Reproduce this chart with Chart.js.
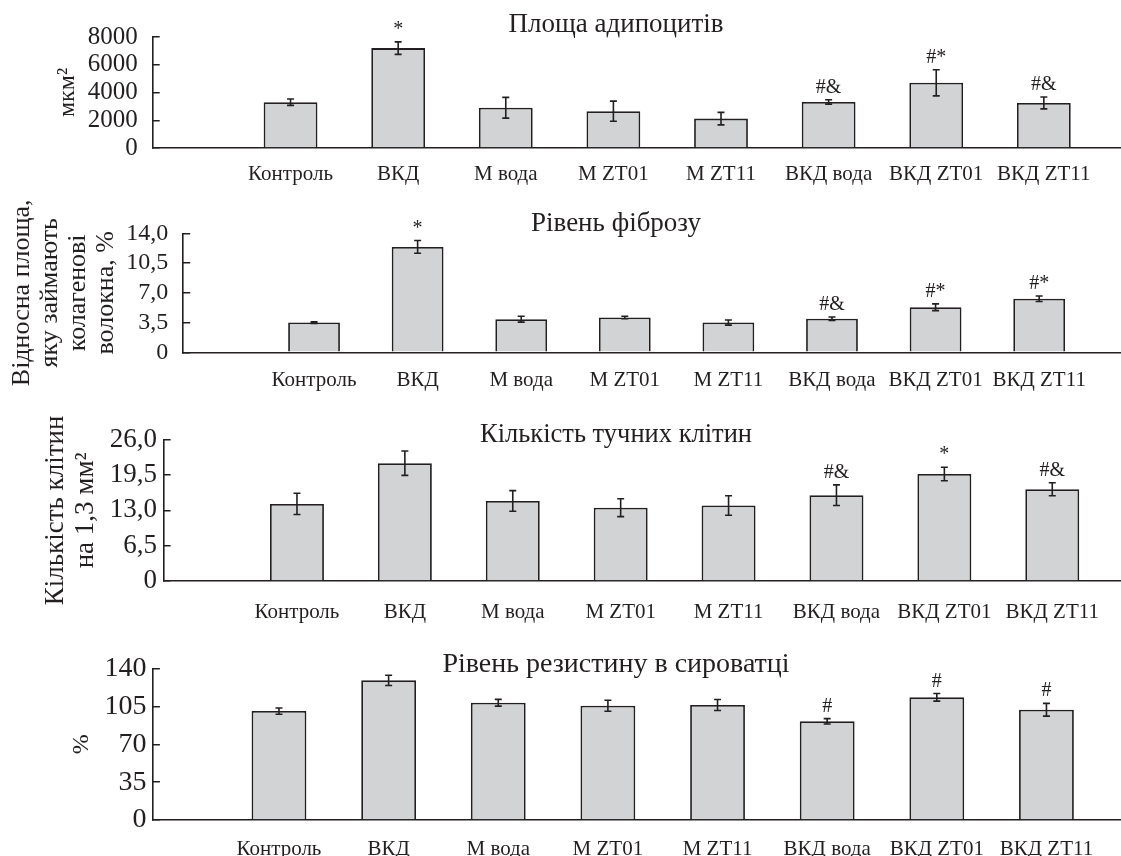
<!DOCTYPE html>
<html>
<head>
<meta charset="utf-8">
<script src="https://cdn.jsdelivr.net/npm/chart.js@4.4.0/dist/chart.umd.min.js"></script>
<style>
  html, body { margin: 0; padding: 0; background: #fff; }
  #wrap { position: relative; width: 1121px; height: 856px; overflow: hidden; }
  canvas { position: absolute; left: 0; }
</style>
</head>
<body>
<div id="wrap">
  <canvas id="chart-1" width="1121" height="195" style="top:0px"></canvas>
  <canvas id="chart-2" width="1121" height="215" style="top:195px"></canvas>
  <canvas id="chart-3" width="1121" height="215" style="top:410px"></canvas>
  <canvas id="chart-4" width="1121" height="231" style="top:625px"></canvas>
</div>
<script>
var categories = ['Контроль', 'ВКД', 'М вода', 'М ZT01', 'М ZT11', 'ВКД вода', 'ВКД ZT01', 'ВКД ZT11'];
var positions = [1, 2, 3, 4, 5, 6, 7, 8];

// площа адипоцитів, мкм2
var area_mean = [3300, 7200, 2900, 2650, 2120, 3320, 4700, 3250];
var area_err = [230, 450, 750, 725, 450, 160, 940, 430];
var area_marks = ['', '*', '', '', '', '#&', '#*', '#&'];
var area_ticks = [0, 2000, 4000, 6000, 8000];
var area_tick_labels = ['0', '2000', '4000', '6000', '8000'];

// рівень фіброзу, %
var fibrosis_mean = [3.5, 12.4, 3.9, 4.1, 3.5, 3.95, 5.3, 6.3];
var fibrosis_err = [0.1, 0.75, 0.35, 0.15, 0.3, 0.2, 0.4, 0.33];
var fibrosis_marks = ['', '*', '', '', '', '#&', '#*', '#*'];
var fibrosis_ticks = [0, 3.5, 7, 10.5, 14];
var fibrosis_tick_labels = ['0', '3,5', '7,0', '10,5', '14,0'];

// кількість тучних клітин
var mast_mean = [14.2, 21.7, 14.75, 13.5, 13.9, 15.8, 19.7, 16.9];
var mast_err = [1.95, 2.25, 1.9, 1.65, 1.8, 1.9, 1.25, 1.2];
var mast_marks = ['', '', '', '', '', '#&', '*', '#&'];
var mast_ticks = [0, 6.5, 13, 19.5, 26];
var mast_tick_labels = ['0', '6,5', '13,0', '19,5', '26,0'];

// рівень резистину, %
var resistin_mean = [100.8, 129.2, 108.5, 105.7, 106.4, 91.3, 113.5, 102];
var resistin_err = [2.9, 4.8, 3.1, 5.1, 5.1, 2.5, 3.5, 5.9];
var resistin_marks = ['', '', '', '', '', '#', '#', '#'];
var resistin_ticks = [0, 35, 70, 105, 140];
var resistin_tick_labels = ['0', '35', '70', '105', '140'];

var ink = '#231f20';
var serif = '"Liberation Serif", "Times New Roman", serif';
Chart.defaults.font.family = serif;
Chart.defaults.color = ink;

// error bars + significance marks
var errorBars = {
  id: 'errorBars',
  afterDatasetsDraw: function (chart) {
    var ctx = chart.ctx;
    var y = chart.scales.y;
    chart.data.datasets.forEach(function (ds, di) {
      var meta = chart.getDatasetMeta(di);
      meta.data.forEach(function (bar, i) {
        var v = ds.data[i].y, e = ds.errors[i];
        var top = y.getPixelForValue(v + e);
        var bot = y.getPixelForValue(v - e);
        ctx.save();
        ctx.strokeStyle = ink;
        ctx.lineWidth = 1.6;
        ctx.beginPath();
        ctx.moveTo(bar.x, top); ctx.lineTo(bar.x, bot);
        ctx.moveTo(bar.x - 3.5, top); ctx.lineTo(bar.x + 3.5, top);
        ctx.moveTo(bar.x - 3.5, bot); ctx.lineTo(bar.x + 3.5, bot);
        ctx.stroke();
        if (ds.marks[i]) {
          ctx.font = '20px ' + serif;
          ctx.fillStyle = ink;
          ctx.textAlign = 'center';
          ctx.textBaseline = 'alphabetic';
          ctx.fillText(ds.marks[i], bar.x, top - 7);
        }
        ctx.restore();
      });
    });
  }
};

// panel title and rotated y title
var panelText = {
  id: 'panelText',
  afterDraw: function (chart, args, opts) {
    var ctx = chart.ctx;
    ctx.save();
    ctx.fillStyle = ink;
    ctx.font = opts.titleSize + 'px ' + serif;
    ctx.textAlign = 'center';
    ctx.textBaseline = 'alphabetic';
    ctx.fillText(opts.title, opts.titleX, opts.titleY);
    var cy = (chart.chartArea.top + chart.chartArea.bottom) / 2;
    ctx.font = opts.ySize + 'px ' + serif;
    ctx.textBaseline = 'middle';
    opts.yLines.forEach(function (line, k) {
      ctx.save();
      ctx.translate(opts.yX + k * opts.yGap, cy);
      ctx.rotate(-Math.PI / 2);
      ctx.fillText(line, 0, 0);
      ctx.restore();
    });
    ctx.restore();
  }
};

function makePanel(id, cfg) {
  var points = cfg.mean.map(function (v, i) { return { x: positions[i], y: v }; });
  return new Chart(document.getElementById(id).getContext('2d'), {
    type: 'bar',
    data: {
      datasets: [{
        data: points,
        errors: cfg.err,
        marks: cfg.marks,
        backgroundColor: '#d1d3d4',
        borderColor: ink,
        borderWidth: 1.8,
        barPercentage: 0.5,
        categoryPercentage: 1
      }]
    },
    options: {
      responsive: false,
      animation: false,
      events: [],
      layout: { padding: { top: cfg.top, left: 0, right: 0, bottom: 0 } },
      plugins: {
        legend: { display: false },
        tooltip: { enabled: false },
        panelText: {
          title: cfg.title, titleX: 616, titleY: cfg.titleY, titleSize: cfg.titleSize,
          yLines: cfg.yLines, yX: cfg.yX, yGap: cfg.yGap, ySize: cfg.ySize
        }
      },
      scales: {
        x: {
          type: 'linear',
          offset: false,
          bounds: 'data',
          min: cfg.xMin,
          max: cfg.xMax,
          afterBuildTicks: function (s) { s.ticks = positions.map(function (v) { return { value: v }; }); },
          afterFit: function (s) { s.height = cfg.xHeight; },
          grid: { display: false, offset: false },
          border: { color: ink, width: 1.6 },
          ticks: {
            autoSkip: false, maxRotation: 0, minRotation: 0,
            padding: cfg.xPad,
            font: { size: 21 },
            callback: function (v, i) { return categories[i]; }
          }
        },
        y: {
          min: 0,
          max: cfg.ticks[cfg.ticks.length - 1],
          afterBuildTicks: function (s) { s.ticks = cfg.ticks.map(function (v) { return { value: v }; }); },
          afterFit: function (s) { s.width = cfg.axisX; },
          grid: { drawOnChartArea: false, tickLength: -7, color: ink, lineWidth: 1.5 },
          border: { color: ink, width: 1.6 },
          ticks: {
            autoSkip: false,
            padding: cfg.yPad,
            font: { size: cfg.tickSize },
            callback: function (v, i) { return cfg.tickLabels[i]; }
          }
        }
      }
    },
    plugins: [errorBars, panelText]
  });
}

makePanel('chart-1', {
  mean: area_mean, err: area_err, marks: area_marks,
  ticks: area_ticks, tickLabels: area_tick_labels, tickSize: 25,
  title: 'Площа адипоцитів', titleY: 31.5, titleSize: 27,
  yLines: ['мкм²'], yX: 68, yGap: 0, ySize: 24,
  top: 30, xHeight: 47, axisX: 152.7, yPad: 22, xPad: 5.7,
  xMin: -0.281, xMax: 8.717
});

makePanel('chart-2', {
  mean: fibrosis_mean, err: fibrosis_err, marks: fibrosis_marks,
  ticks: fibrosis_ticks, tickLabels: fibrosis_tick_labels, tickSize: 24,
  title: 'Рівень фіброзу', titleY: 36, titleSize: 27,
  yLines: ['Відносна площа,', 'яку займають', 'колагенові', 'волокна, %'], yX: 22.5, yGap: 28, ySize: 26,
  top: 38.3, xHeight: 57.7, axisX: 183.2, yPad: 22, xPad: 7.7,
  xMin: -0.263, xMax: 8.79
});

makePanel('chart-3', {
  mean: mast_mean, err: mast_err, marks: mast_marks,
  ticks: mast_ticks, tickLabels: mast_tick_labels, tickSize: 27,
  title: 'Кількість тучних клітин', titleY: 31.7, titleSize: 26.5,
  yLines: ['Кількість клітин', 'на 1,3 мм²'], yX: 56, yGap: 30, ySize: 27,
  top: 28.3, xHeight: 44, axisX: 163.6, yPad: 13.6, xPad: 11,
  xMin: -0.236, xMax: 8.637
});

makePanel('chart-4', {
  mean: resistin_mean, err: resistin_err, marks: resistin_marks,
  ticks: resistin_ticks, tickLabels: resistin_tick_labels, tickSize: 28,
  title: 'Рівень резистину в сироватці', titleY: 46.7, titleSize: 28,
  yLines: ['%'], yX: 82, yGap: 0, ySize: 24,
  top: 43.7, xHeight: 36, axisX: 152.9, yPad: 13.5, xPad: 8.7,
  xMin: -0.15, xMax: 8.68
});
</script>
</body>
</html>
